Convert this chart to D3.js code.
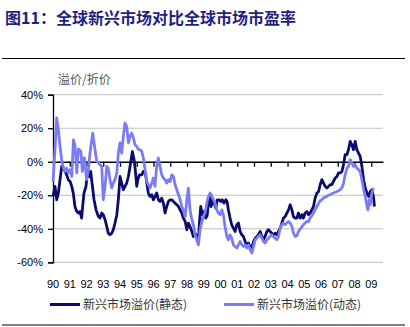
<!DOCTYPE html>
<html><head><meta charset="utf-8">
<script src="https://cdn.jsdelivr.net/npm/d3@7"></script>
<style>
html,body{margin:0;padding:0;background:#fff;}
svg{display:block;}
</style></head>
<body>
<svg id="c" width="410" height="327"></svg>
<script>
const title = "图11：全球新兴市场对比全球市场市盈率";
const unitLabel = "溢价/折价";
const yTicks = [40, 20, 0, -20, -40, -60];
const yearLabels = ["90","91","92","93","94","95","96","97","98","99","00","01","02","03","04","05","06","07","08","09"];
const seriesNames = ["新兴市场溢价(静态)", "新兴市场溢价(动态)"];

// decimal year
const staticDates = [1990.00,1990.12,1990.22,1990.32,1990.42,1990.52,1990.62,1990.72,1990.82,1990.91,1991.02,1991.12,1991.21,1991.31,1991.42,1991.51,1991.61,1991.71,1991.77,1991.85,1991.97,1992.05,1992.17,1992.25,1992.33,1992.45,1992.57,1992.71,1992.81,1992.91,1993.00,1993.11,1993.21,1993.30,1993.40,1993.51,1993.60,1993.70,1993.81,1993.90,1994.00,1994.10,1994.20,1994.30,1994.40,1994.50,1994.60,1994.74,1994.84,1994.90,1995.00,1995.06,1995.16,1995.30,1995.39,1995.50,1995.60,1995.69,1995.79,1995.90,1995.99,1996.09,1996.19,1996.29,1996.39,1996.49,1996.59,1996.69,1996.79,1996.89,1996.99,1997.09,1997.19,1997.29,1997.39,1997.49,1997.59,1997.69,1997.78,1997.89,1997.99,1998.08,1998.18,1998.29,1998.38,1998.48,1998.58,1998.68,1998.74,1998.82,1998.92,1999.02,1999.12,1999.20,1999.28,1999.38,1999.44,1999.52,1999.62,1999.72,1999.81,1999.92,2000.02,2000.11,2000.21,2000.32,2000.39,2000.47,2000.57,2000.67,2000.77,2000.87,2000.97,2001.07,2001.17,2001.27,2001.37,2001.47,2001.57,2001.67,2001.77,2001.87,2001.97,2002.07,2002.17,2002.26,2002.37,2002.47,2002.56,2002.66,2002.77,2002.86,2002.96,2003.06,2003.16,2003.26,2003.36,2003.46,2003.56,2003.66,2003.76,2003.86,2003.96,2004.06,2004.16,2004.26,2004.35,2004.46,2004.56,2004.65,2004.76,2004.86,2004.95,2005.05,2005.16,2005.25,2005.35,2005.45,2005.55,2005.65,2005.75,2005.85,2005.95,2006.05,2006.15,2006.25,2006.35,2006.45,2006.55,2006.65,2006.74,2006.85,2006.95,2007.04,2007.14,2007.25,2007.34,2007.44,2007.55,2007.64,2007.74,2007.84,2007.94,2008.04,2008.14,2008.24,2008.34,2008.44,2008.54,2008.64,2008.74,2008.84,2008.94,2009.04,2009.13,2009.19];
const staticValues = [-20.7,-14.7,-22.7,-18.7,-10.7,-2.8,-3.8,-5.8,-7.8,-10.7,-11.8,-14.7,-18.7,-26.7,-29.7,-30.6,-29.7,-33.6,-26.7,-18.7,-14.7,-6.7,-8.8,-5.8,-12.7,-22.7,-28.7,-32.7,-33.6,-30.6,-31.6,-34.6,-38.6,-42.6,-43.6,-42.6,-40.6,-36.6,-31.6,-22.7,-8.8,-12.7,-16.7,-14.7,-12.7,-8.8,-2.8,6.1,1.2,-3.8,-14.7,-10.7,-7.8,-7.8,-5.8,-6.0,-12.7,-18.7,-20.7,-19.7,-22.7,-20.7,-18.7,-22.7,-23.7,-21.7,-24.7,-30.6,-26.7,-23.7,-22.7,-22.7,-23.7,-24.7,-25.7,-26.7,-28.7,-30.6,-33.6,-35.6,-40.6,-36.6,-38.6,-41.6,-44.6,-42.6,-44.6,-46.6,-36.6,-26.7,-31.6,-29.7,-33.6,-32.2,-24.7,-20.7,-26.7,-22.7,-24.7,-27.6,-22.7,-22.7,-23.7,-22.7,-24.7,-22.7,-23.7,-28.7,-33.6,-37.6,-39.6,-41.6,-37.6,-36.6,-41.6,-43.6,-44.6,-47.6,-49.6,-48.5,-50.6,-51.5,-47.6,-45.6,-44.6,-43.6,-41.6,-44.6,-46.6,-44.6,-41.6,-40.6,-41.6,-42.6,-43.6,-42.6,-43.6,-41.6,-39.6,-36.6,-33.6,-32.7,-30.6,-28.7,-25.7,-28.7,-32.7,-33.6,-33.6,-30.6,-33.6,-31.6,-33.6,-30.6,-29.7,-31.6,-30.6,-28.7,-26.7,-21.7,-18.7,-17.9,-13.7,-10.7,-12.7,-14.7,-15.7,-14.7,-13.7,-13.7,-11.8,-9.7,-8.8,-6.7,-6.7,-5.8,-1.8,4.2,4.2,7.2,12.1,10.1,7.2,12.1,7.2,5.2,3.2,-2.8,-10.7,-15.7,-18.7,-20.7,-17.7,-16.7,-20.7,-26.7];

const dynamicDates = [1990.00,1990.12,1990.22,1990.32,1990.42,1990.52,1990.62,1990.72,1990.82,1990.91,1991.02,1991.12,1991.22,1991.31,1991.42,1991.52,1991.67,1991.75,1991.87,1992.01,1992.11,1992.21,1992.37,1992.51,1992.61,1992.71,1992.81,1992.91,1993.00,1993.11,1993.21,1993.30,1993.40,1993.51,1993.60,1993.70,1993.81,1993.90,1994.00,1994.10,1994.20,1994.30,1994.40,1994.50,1994.60,1994.70,1994.80,1994.90,1995.00,1995.10,1995.20,1995.30,1995.39,1995.50,1995.60,1995.69,1995.79,1995.90,1995.99,1996.09,1996.19,1996.29,1996.39,1996.49,1996.59,1996.69,1996.79,1996.89,1996.99,1997.09,1997.19,1997.29,1997.39,1997.49,1997.59,1997.69,1997.78,1997.89,1997.99,1998.08,1998.18,1998.29,1998.38,1998.48,1998.58,1998.68,1998.78,1998.88,1998.98,1999.08,1999.18,1999.28,1999.38,1999.48,1999.58,1999.68,1999.78,1999.87,1999.98,2000.08,2000.17,2000.27,2000.38,2000.47,2000.57,2000.67,2000.77,2000.87,2000.97,2001.07,2001.17,2001.27,2001.37,2001.47,2001.57,2001.67,2001.77,2001.87,2001.97,2002.07,2002.17,2002.26,2002.37,2002.47,2002.56,2002.66,2002.77,2002.86,2002.96,2003.06,2003.16,2003.26,2003.36,2003.46,2003.56,2003.66,2003.76,2003.86,2003.96,2004.06,2004.16,2004.26,2004.35,2004.46,2004.56,2004.65,2004.76,2004.86,2004.95,2005.05,2005.16,2005.25,2005.35,2005.45,2005.55,2005.65,2005.75,2005.85,2005.95,2006.05,2006.15,2006.25,2006.35,2006.45,2006.55,2006.65,2006.74,2006.85,2006.95,2007.04,2007.14,2007.25,2007.34,2007.44,2007.55,2007.64,2007.74,2007.84,2007.94,2008.04,2008.14,2008.24,2008.34,2008.44,2008.54,2008.64,2008.74,2008.80,2008.88,2008.94,2009.04,2009.13];
const dynamicValues = [-12.0,7.2,26.1,19.1,9.1,1.2,-3.8,-5.8,-3.8,-6.6,-4.8,-8.8,13.1,10.1,-6.6,7.6,6.1,-5.8,2.4,-10.7,-4.8,5.4,17.1,7.2,0.2,-0.6,-1.8,-2.8,-22.7,-14.7,-2.8,-3.8,-10.7,-15.7,-12.7,-10.7,-6.7,5.2,11.2,5.2,15.1,23.1,21.1,11.2,15.1,17.1,14.1,10.1,9.1,7.2,7.2,6.1,2.2,-4.8,-11.8,-13.7,-15.7,-12.7,-9.7,-14.7,-2.8,2.2,-2.8,-7.8,-9.7,-10.7,-12.7,-10.7,-11.8,-7.8,-8.8,-13.7,-16.7,-19.7,-22.7,-26.7,-28.7,-32.7,-22.7,-15.7,-28.7,-34.6,-37.6,-43.6,-46.6,-49.6,-40.6,-35.8,-32.7,-30.4,-24.7,-20.7,-18.7,-20.7,-22.7,-24.7,-28.7,-30.6,-31.6,-28.7,-31.6,-38.6,-44.6,-46.6,-43.6,-45.6,-49.6,-50.6,-51.5,-49.6,-47.6,-49.6,-50.6,-49.6,-51.5,-49.6,-52.5,-54.5,-50.6,-46.6,-45.6,-44.6,-43.6,-45.6,-47.6,-48.5,-46.6,-45.6,-44.6,-43.6,-44.6,-45.6,-46.6,-44.6,-39.6,-37.6,-36.6,-37.6,-36.6,-35.6,-36.6,-38.6,-42.4,-44.6,-44.2,-41.8,-40.0,-38.8,-37.6,-36.6,-35.6,-35.8,-33.6,-32.2,-30.6,-28.7,-26.7,-25.1,-23.3,-22.7,-21.7,-21.2,-20.7,-20.0,-19.7,-19.1,-18.7,-18.2,-17.7,-17.3,-16.7,-15.5,-13.1,-7.8,-3.8,-2.8,1.2,-0.8,-2.8,-1.8,-3.8,-4.8,-5.8,-10.7,-16.1,-20.9,-26.3,-28.7,-22.7,-25.7,-18.5,-15.7];

const colors = ["#0b0b6e", "#7c7cf2"];

const svg = d3.select("#c");
const W = 410, H = 327;

// Title
svg.append("text").attr("x", 5).attr("y", 24)
  .attr("font-family", "'Noto Sans CJK SC', sans-serif")
  .attr("font-size", 16).attr("font-weight", "bold").attr("fill", "#1f1f7e")
  .text(title);

// rules
svg.append("line").attr("x1", 2).attr("x2", 405).attr("y1", 58.5).attr("y2", 58.5)
  .attr("stroke", "#000").attr("stroke-width", 1.2);
svg.append("line").attr("x1", 2).attr("x2", 405).attr("y1", 325).attr("y2", 325)
  .attr("stroke", "#000").attr("stroke-width", 1.2);

const x = d3.scaleLinear().domain([1990, 2009.7]).range([53, 383]);
const y = d3.scaleLinear().domain([-60, 40]).range([262.3, 94.7]);

// unit label
svg.append("text").attr("x", 58).attr("y", 84)
  .attr("font-family", "'Noto Sans CJK SC', sans-serif")
  .attr("font-size", 12).attr("fill", "#555").text(unitLabel);

// gridlines
svg.append("g").selectAll("line").data(yTicks.filter(d => d !== 0)).join("line")
  .attr("x1", x(1990)).attr("x2", x(2009.7))
  .attr("y1", d => y(d)).attr("y2", d => y(d))
  .attr("stroke", "#c0c0c0").attr("stroke-width", 1);

// y axis
const yAxis = svg.append("g").attr("transform", `translate(${x(1990)},0)`)
  .call(d3.axisLeft(y).tickValues(yTicks).tickSize(5).tickFormat(d => d + "%"));
yAxis.select(".domain").attr("stroke", "#000").attr("stroke-width", 1.3);
yAxis.selectAll(".tick line").attr("stroke", "#000").attr("stroke-width", 1.3);
yAxis.selectAll("text").attr("font-family", "'Liberation Sans', Arial, sans-serif")
  .attr("font-size", 11).attr("fill", "#000").attr("x", -10);

// x axis at 0%
const years = d3.range(1990, 2010);
const xAxis = svg.append("g").attr("transform", `translate(0,${y(0)})`)
  .call(d3.axisBottom(x).tickValues(years.slice(1)).tickSize(5).tickSizeOuter(0).tickFormat(""));
xAxis.select(".domain").attr("stroke", "#000").attr("stroke-width", 1.3);
xAxis.selectAll(".tick line").attr("stroke", "#000").attr("stroke-width", 1.3);

// year labels
svg.append("g").selectAll("text").data(years).join("text")
  .attr("x", d => x(d)).attr("y", 288)
  .attr("text-anchor", "middle")
  .attr("font-family", "'Liberation Sans', Arial, sans-serif")
  .attr("font-size", 11).attr("fill", "#000")
  .text((d, i) => yearLabels[i]);

// lines
const line = d3.line().x(d => x(d[0])).y(d => y(d[1]));
const series = [
  d3.zip(staticDates, staticValues),
  d3.zip(dynamicDates, dynamicValues)
];
series.forEach((s, i) => {
  svg.append("path").datum(s).attr("d", line)
    .attr("fill", "none").attr("stroke", colors[i]).attr("stroke-width", 2.8)
    .attr("stroke-linejoin", "round");
});

// legend
const legendX = [50, 224];
seriesNames.forEach((n, i) => {
  svg.append("line").attr("x1", legendX[i]).attr("x2", legendX[i] + 30)
    .attr("y1", 304.5).attr("y2", 304.5).attr("stroke", colors[i]).attr("stroke-width", 3);
  svg.append("text").attr("x", legendX[i] + 33).attr("y", 309)
    .attr("font-family", "'Noto Sans CJK SC', sans-serif")
    .attr("font-size", 12).attr("fill", "#333").text(n);
});
</script>
</body></html>
